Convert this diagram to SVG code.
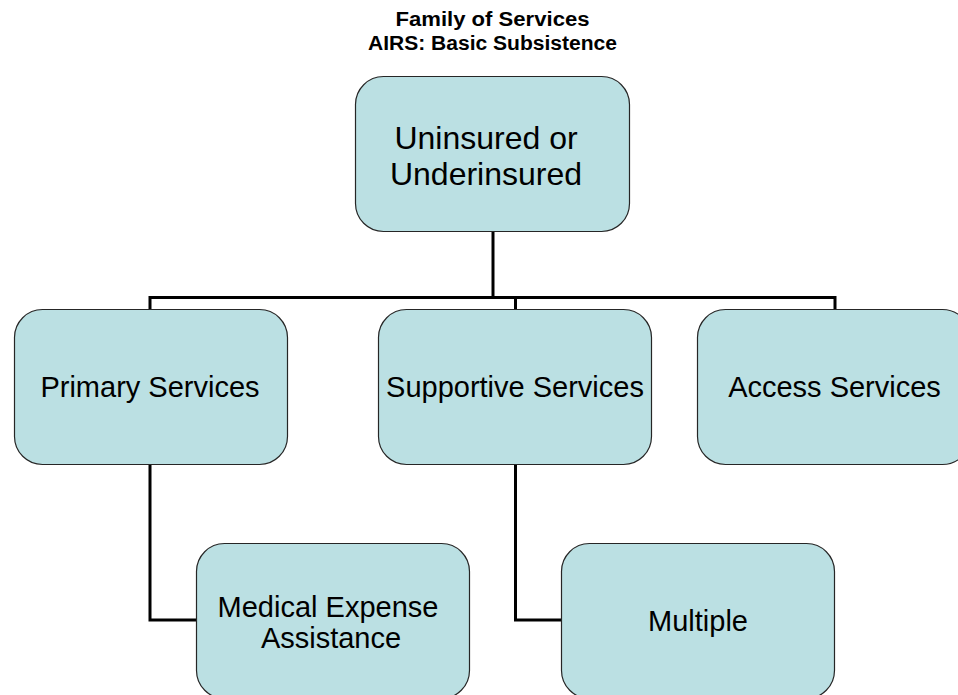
<svg xmlns="http://www.w3.org/2000/svg" width="958" height="695" viewBox="0 0 958 695">
  <style>
    .box { fill: #BBE0E3; stroke: #262626; stroke-width: 1.2; }
    .lbl { font-family: "Liberation Sans", Arial, sans-serif; font-size: 29px; fill: #000; text-anchor: middle; }
    .big { font-size: 32px; }
    .title { font-family: "Liberation Sans", Arial, sans-serif; font-size: 20px; font-weight: bold; fill: #000; text-anchor: middle; }
    .wire { fill: none; stroke: #000; stroke-width: 3; }
  </style>
  <rect width="958" height="695" fill="#fff"/>

  <!-- Heading -->
  <g id="title">
    <text class="title" x="492.5" y="26" textLength="194" lengthAdjust="spacingAndGlyphs">Family of Services</text>
    <text class="title" x="492.5" y="50" textLength="249" lengthAdjust="spacingAndGlyphs">AIRS: Basic Subsistence</text>
  </g>

  <!-- Connectors -->
  <g id="connectors">
    <path class="wire" d="M493 231 V297.5"/>
    <path class="wire" d="M150 309 V297.5 H835 V309"/>
    <path class="wire" d="M515.5 297.5 V309"/>
    <path class="wire" d="M150 465 V620 H196"/>
    <path class="wire" d="M515.5 465 V620 H561"/>
  </g>

  <!-- Nodes -->
  <g id="node-uninsured">
    <rect class="box" x="355.5" y="76.5" width="274" height="155" rx="28"/>
    <text class="lbl big" x="486" y="149">Uninsured or</text>
    <text class="lbl big" x="486" y="185">Underinsured</text>
  </g>
  <g id="node-primary">
    <rect class="box" x="14.5" y="309.5" width="273" height="155" rx="28"/>
    <text class="lbl" x="150" y="397">Primary Services</text>
  </g>
  <g id="node-supportive">
    <rect class="box" x="378.5" y="309.5" width="273" height="155" rx="28"/>
    <text class="lbl" x="515" y="397">Supportive Services</text>
  </g>
  <g id="node-access">
    <rect class="box" x="697.5" y="309.5" width="273" height="155" rx="28"/>
    <text class="lbl" x="834.5" y="397">Access Services</text>
  </g>
  <g id="node-medical">
    <rect class="box" x="196.5" y="543.5" width="273" height="155" rx="28"/>
    <text class="lbl" x="328" y="617">Medical Expense</text>
    <text class="lbl" x="331" y="648">Assistance</text>
  </g>
  <g id="node-multiple">
    <rect class="box" x="561.5" y="543.5" width="273" height="155" rx="28"/>
    <text class="lbl" x="698" y="631">Multiple</text>
  </g>
</svg>
